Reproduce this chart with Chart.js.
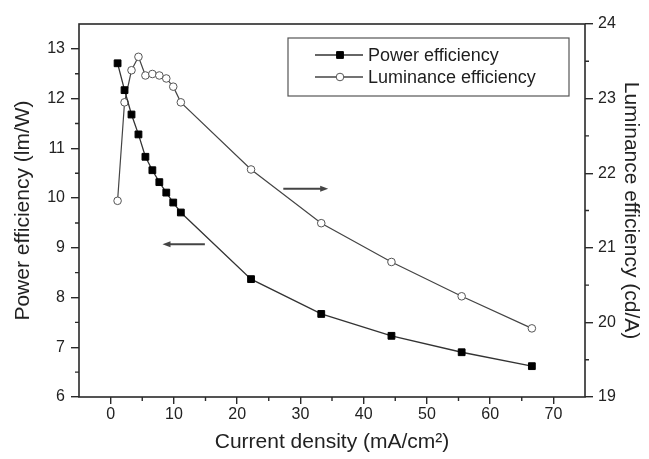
<!DOCTYPE html>
<html>
<head>
<meta charset="utf-8">
<script src="https://cdn.jsdelivr.net/npm/chart.js@4.4.1/dist/chart.umd.min.js"></script>
<style>
  html, body { margin: 0; padding: 0; background: #fff; }
</style>
</head>
<body>
<canvas id="chart" width="649" height="459"></canvas>
<script>
// values
const currentDensity = [1.1, 2.2, 3.3, 4.4, 5.5, 6.6, 7.7, 8.8, 9.9, 11.1, 22.2, 33.3, 44.4, 55.5, 66.6];
const powerEfficiency = [12.71, 12.17, 11.68, 11.28, 10.83, 10.56, 10.32, 10.11, 9.91, 9.71, 8.37, 7.67, 7.23, 6.90, 6.62];
const luminanceEfficiency = [21.63, 22.95, 23.38, 23.56, 23.31, 23.33, 23.31, 23.27, 23.16, 22.95, 22.05, 21.33, 20.81, 20.35, 19.92];

const xTicks = [0, 10, 20, 30, 40, 50, 60, 70];
const powerTicks = [6, 7, 8, 9, 10, 11, 12, 13];
const luminanceTicks = [19, 20, 21, 22, 23, 24];

const seriesLabels = ["Power efficiency", "Luminance efficiency"];

// arrows pointing at the axis each curve belongs to (data units)
const arrows = [
  { axis: "y2", x0: 27.3, x1: 34.4, y: 21.79 },
  { axis: "y", x0: 14.9, x1: 8.2, y: 9.07 }
];

const ink = "#2a2a2a";
const font = "'Liberation Sans', Arial, sans-serif";

function toPoints(xs, ys) {
  return xs.map((x, i) => ({ x: x, y: ys[i] }));
}

function fixedTicks(values) {
  return scale => { scale.ticks = values.map(v => ({ value: v })); };
}

function drawArrow(ctx, x0, x1, y) {
  const dir = Math.sign(x1 - x0);
  ctx.beginPath();
  ctx.moveTo(x0, y);
  ctx.lineTo(x1 - dir * 6, y);
  ctx.stroke();
  ctx.beginPath();
  ctx.moveTo(x1, y);
  ctx.lineTo(x1 - dir * 8, y - 3);
  ctx.lineTo(x1 - dir * 8, y + 3);
  ctx.closePath();
  ctx.fill();
}

const decorPlugin = {
  id: "decor",
  afterDraw(chart) {
    const { ctx, chartArea: a, scales } = chart;
    ctx.save();

    // frame
    ctx.strokeStyle = ink;
    ctx.lineWidth = 1.6;
    ctx.strokeRect(a.left, a.top, a.right - a.left, a.bottom - a.top);

    // minor ticks
    ctx.lineWidth = 1.4;
    ctx.beginPath();
    for (let i = 0; i < xTicks.length - 1; i++) {
      const px = scales.x.getPixelForValue((xTicks[i] + xTicks[i + 1]) / 2);
      ctx.moveTo(px, a.bottom);
      ctx.lineTo(px, a.bottom + 4);
    }
    for (let i = 0; i < powerTicks.length - 1; i++) {
      const py = scales.y.getPixelForValue((powerTicks[i] + powerTicks[i + 1]) / 2);
      ctx.moveTo(a.left, py);
      ctx.lineTo(a.left - 4, py);
    }
    for (let i = 0; i < luminanceTicks.length - 1; i++) {
      const py = scales.y2.getPixelForValue((luminanceTicks[i] + luminanceTicks[i + 1]) / 2);
      ctx.moveTo(a.right, py);
      ctx.lineTo(a.right + 4, py);
    }
    ctx.stroke();

    // arrows
    ctx.strokeStyle = "#444";
    ctx.fillStyle = "#444";
    ctx.lineWidth = 2;
    for (const ar of arrows) {
      const yScale = scales[ar.axis];
      drawArrow(ctx, scales.x.getPixelForValue(ar.x0), scales.x.getPixelForValue(ar.x1), yScale.getPixelForValue(ar.y));
    }

    // legend
    const bx = a.left + 209, by = a.top + 14, bw = 281, bh = 58;
    ctx.strokeStyle = "#555";
    ctx.lineWidth = 1.2;
    ctx.strokeRect(bx, by, bw, bh);
    chart.data.datasets.forEach((ds, i) => {
      const ly = by + 17 + i * 22;
      ctx.strokeStyle = ds.borderColor;
      ctx.lineWidth = 1.3;
      ctx.beginPath();
      ctx.moveTo(bx + 27, ly);
      ctx.lineTo(bx + 75, ly);
      ctx.stroke();
      ctx.fillStyle = ds.pointBackgroundColor;
      ctx.strokeStyle = ds.pointBorderColor;
      ctx.lineWidth = ds.pointBorderWidth;
      ctx.beginPath();
      if (ds.pointStyle === "rect") {
        const s = ds.pointRadius * Math.SQRT1_2;
        ctx.rect(bx + 52 - s, ly - s, 2 * s, 2 * s);
      } else {
        ctx.arc(bx + 52, ly, ds.pointRadius, 0, Math.PI * 2);
      }
      ctx.fill();
      ctx.stroke();
      ctx.fillStyle = "#1e1e1e";
      ctx.font = "18px " + font;
      ctx.textBaseline = "middle";
      ctx.textAlign = "left";
      ctx.fillText(ds.label, bx + 80, ly + 1);
    });

    ctx.restore();
  }
};

const tickFont = { family: font, size: 16 };
const titleFont = { family: font, size: 21, lineHeight: 1 };

new Chart(document.getElementById("chart"), {
  type: "scatter",
  data: {
    datasets: [
      {
        label: seriesLabels[0],
        data: toPoints(currentDensity, powerEfficiency),
        yAxisID: "y",
        showLine: true,
        borderColor: "#333",
        borderWidth: 1.3,
        pointStyle: "rect",
        pointRadius: 4.8,
        pointBackgroundColor: "#000",
        pointBorderColor: "#000",
        pointBorderWidth: 1
      },
      {
        label: seriesLabels[1],
        data: toPoints(currentDensity, luminanceEfficiency),
        yAxisID: "y2",
        showLine: true,
        borderColor: "#444",
        borderWidth: 1.2,
        pointStyle: "circle",
        pointRadius: 3.8,
        pointBackgroundColor: "#fff",
        pointBorderColor: "#555",
        pointBorderWidth: 1
      }
    ]
  },
  options: {
    responsive: false,
    animation: false,
    layout: { padding: { top: 24, left: 0, right: 0, bottom: 0 } },
    plugins: { legend: { display: false }, tooltip: { enabled: false } },
    scales: {
      x: {
        type: "linear",
        position: "bottom",
        min: -5,
        max: 75,
        afterBuildTicks: fixedTicks(xTicks),
        afterFit: s => { s.height = 62; },
        border: { display: false },
        grid: { drawOnChartArea: false, tickLength: 7, color: ink, lineWidth: 1.4 },
        ticks: { color: "#222", font: tickFont, padding: 1, maxRotation: 0 },
        title: { display: true, text: "Current density (mA/cm²)", color: "#222", font: titleFont, padding: { top: 0, bottom: 6 } }
      },
      y: {
        type: "linear",
        position: "left",
        min: 6,
        max: 13.5,
        afterBuildTicks: fixedTicks(powerTicks),
        afterFit: s => { s.width = 79; },
        border: { display: false },
        grid: { drawOnChartArea: false, tickLength: 8, color: ink, lineWidth: 1.4 },
        ticks: { color: "#222", font: tickFont, padding: 6 },
        title: { display: true, text: "Power efficiency (lm/W)", color: "#222", font: titleFont, padding: { top: 13, bottom: 0 } }
      },
      y2: {
        type: "linear",
        position: "right",
        min: 19,
        max: 24,
        afterBuildTicks: fixedTicks(luminanceTicks),
        afterFit: s => { s.width = 64; },
        border: { display: false },
        grid: { drawOnChartArea: false, tickLength: 8, color: ink, lineWidth: 1.4 },
        ticks: { color: "#222", font: tickFont, padding: 5 },
        title: { display: true, text: "Luminance efficiency (cd/A)", color: "#222", font: titleFont, padding: { top: 8, bottom: 0 } }
      }
    }
  },
  plugins: [decorPlugin]
});
</script>
</body>
</html>
